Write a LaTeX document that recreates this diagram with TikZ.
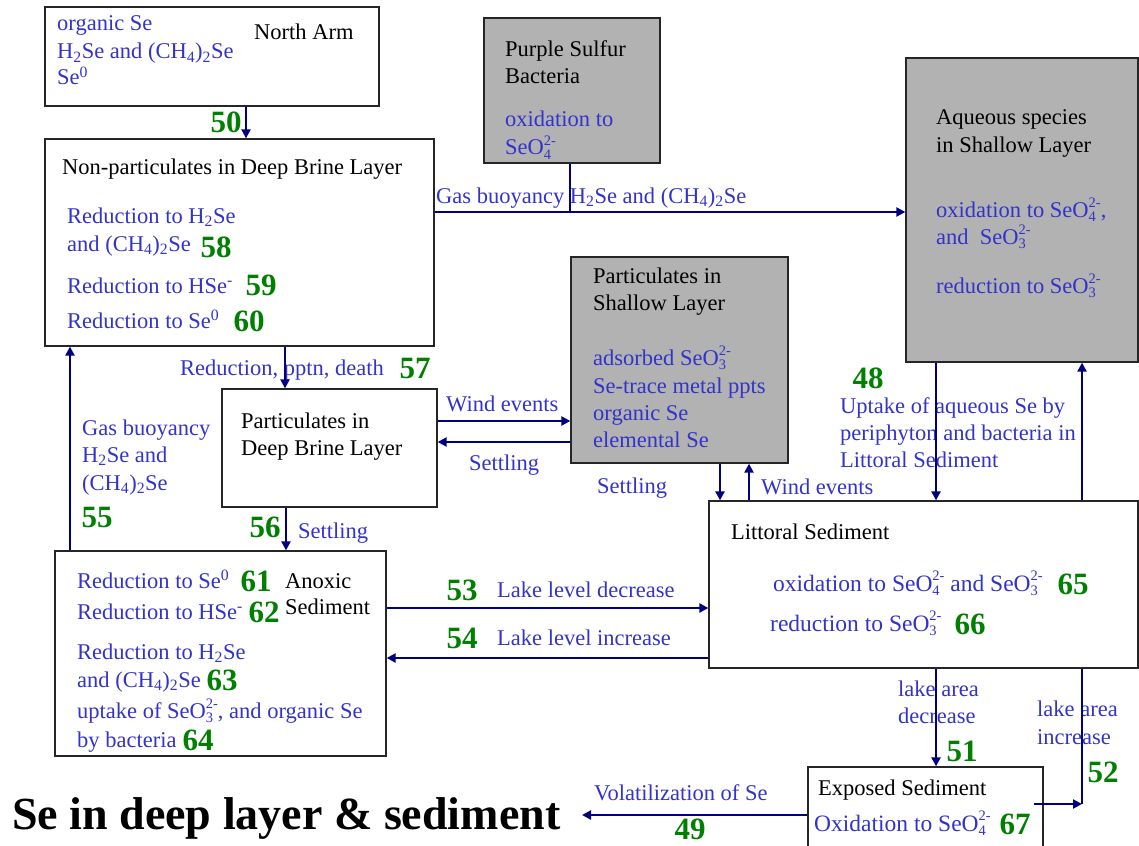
\documentclass[tikz,border=0pt]{standalone}
\usepackage{fontspec}
\setmainfont{Liberation Serif}
\usetikzlibrary{arrows.meta}
\definecolor{tblue}{RGB}{51,51,204}
\definecolor{tgreen}{RGB}{0,128,0}
\definecolor{navyc}{RGB}{0,0,128}
\definecolor{boxgray}{RGB}{178,178,178}
\newcommand\sub[1]{\textsubscript{#1}}
\newcommand\sups[1]{\textsuperscript{#1}}
\newcommand\ion[2]{\rlap{\raisebox{-0.45ex}{\fontsize{14.5}{14.5}\selectfont #1}}\raisebox{0.95ex}{\fontsize{14.5}{14.5}\selectfont #2}}
\tikzset{
 wbox/.style={draw=black!85, line width=1.3pt, fill=white, rectangle, inner sep=0pt},
 gbox/.style={wbox, fill=boxgray},
 txt/.style={anchor=west, inner sep=0pt, text height=16pt, text depth=2pt, font=\fontsize{22.5}{27}\selectfont},
 btxt/.style={txt, text=tblue},
 btxtl/.style={btxt, font=\fontsize{23.5}{27}\selectfont},
 ktxt/.style={txt, text=black},
 gnum/.style={inner sep=0pt, text=tgreen, font=\fontsize{31}{31}\selectfont\bfseries},
 arr/.style={draw=navyc, line width=2.2pt, -{Triangle[length=9pt,width=9pt]}},
 ln/.style={draw=navyc, line width=2.2pt},
}
\begin{document}
\begin{tikzpicture}[x=1pt,y=-1pt]
\useasboundingbox (0,0) rectangle (1139,845);
% boxes
\node[wbox, minimum width=334, minimum height=99] (north) at (212,56.5) {};
\node[wbox, minimum width=389, minimum height=207] (np) at (239.5,242.5) {};
\node[gbox, minimum width=176, minimum height=145] (psb) at (572,90.5) {};
\node[gbox, minimum width=232, minimum height=304] (aq) at (1022,210) {};
\node[gbox, minimum width=217, minimum height=206] (ps) at (679.5,360) {};
\node[wbox, minimum width=215, minimum height=118] (pd) at (329.5,448) {};
\node[wbox, minimum width=331, minimum height=205] (anox) at (220.5,653.5) {};
\node[wbox, minimum width=429, minimum height=167] (lit) at (923.5,584.5) {};
\node[wbox, minimum width=235, minimum height=83] (exp) at (925.5,808.5) {};
% North Arm
\node[btxt] (na1) at (57,24) {organic Se};
\node[btxt] (na2) at (57,52) {H\sub{2}Se and (CH\sub{4})\sub{2}Se};
\node[btxt] (na3) at (57,78) {Se\sups{0}};
\node[ktxt] (na4) at (254,33) {North Arm};
% Non-particulates
\node[ktxt] (np1) at (62,168) {Non-particulates in Deep Brine Layer};
\node[btxt] (np2) at (67,216) {Reduction to H\sub{2}Se};
\node[btxt] (np3) at (67,244) {and (CH\sub{4})\sub{2}Se};
\node[btxt] (np4) at (67,286) {Reduction to HSe\sups{-}};
\node[btxt] (np5) at (67,321) {Reduction to Se\sups{0}};
% Purple sulfur
\node[ktxt] (ps1) at (505,50) {Purple Sulfur};
\node[ktxt] (ps2) at (505,77) {Bacteria};
\node[btxt] (ps3) at (505,120) {oxidation to};
\node[btxt] (ps4) at (505,148) {SeO\ion{4}{2-}};
% Aqueous
\node[ktxt] (aq1) at (936,118) {Aqueous species};
\node[ktxt] (aq2) at (936,146) {in Shallow Layer};
\node[btxt] (aq3) at (936,210) {oxidation to SeO\ion{4}{2-},};
\node[btxt] (aq4) at (936,237) {and\ \ SeO\ion{3}{2-}};
\node[btxt] (aq5) at (936,286) {reduction to SeO\ion{3}{2-}};
% Particulates shallow
\node[ktxt] (sh1) at (593,276) {Particulates in};
\node[ktxt] (sh2) at (593,303) {Shallow Layer};
\node[btxt] (sh3) at (593,358) {adsorbed SeO\ion{3}{2-}};
\node[btxt] (sh4) at (593,386) {Se-trace metal ppts};
\node[btxt] (sh5) at (593,413) {organic Se};
\node[btxt] (sh6) at (593,440) {elemental Se};
% Particulates deep
\node[ktxt] (pd1) at (241,421) {Particulates in};
\node[ktxt] (pd2) at (241,448) {Deep Brine Layer};
% Anoxic
\node[btxt] (an1) at (77,581) {Reduction to Se\sups{0}};
\node[btxt] (an2) at (77,612) {Reduction to HSe\sups{-}};
\node[btxt] (an3) at (77,652) {Reduction to H\sub{2}Se};
\node[btxt] (an4) at (77,680) {and (CH\sub{4})\sub{2}Se};
\node[btxt] (an5) at (77,711) {uptake of SeO\ion{3}{2-}, and organic Se};
\node[btxt] (an6) at (77,740) {by bacteria};
\node[ktxt] (an7) at (285,581) {Anoxic};
\node[ktxt] (an8) at (285,607) {Sediment};
% Littoral
\node[ktxt] (li1) at (731,532) {Littoral Sediment};
\node[btxtl] (li2) at (773,584) {oxidation to SeO\ion{4}{2-} and SeO\ion{3}{2-}};
\node[btxtl] (li3) at (770,624) {reduction to SeO\ion{3}{2-}};
% Exposed
\node[ktxt] (ex1) at (818,788) {Exposed Sediment};
\node[btxtl] (ex2) at (814,824) {Oxidation to SeO\ion{4}{2-}};
% connector labels
\node[btxt] (lgas) at (436,196) {Gas buoyancy H\sub{2}Se and (CH\sub{4})\sub{2}Se};
\node[btxt] (lred) at (180,368) {Reduction, pptn, death};
\node[btxt] (lwind) at (446,404) {Wind events};
\node[btxt] (lset) at (469,463) {Settling};
\node[btxt] (lg1) at (82,428) {Gas buoyancy};
\node[btxt] (lg2) at (82,455) {H\sub{2}Se and};
\node[btxt] (lg3) at (82,483) {(CH\sub{4})\sub{2}Se};
\node[btxt] (lset2) at (298,531) {Settling};
\node[btxt] (lset3) at (597,486) {Settling};
\node[btxt] (lwind2) at (761,487) {Wind events};
\node[btxt] (lup1) at (840,406) {Uptake of aqueous Se by};
\node[btxt] (lup2) at (840,433) {periphyton and bacteria in};
\node[btxt] (lup3) at (840,460) {Littoral Sediment};
\node[btxt] (llld) at (497,590) {Lake level decrease};
\node[btxt] (llli) at (497,638) {Lake level increase};
\node[btxt] (lla1) at (898,689) {lake area};
\node[btxt] (lla2) at (898,716) {decrease};
\node[btxt] (lla3) at (1037,709) {lake area};
\node[btxt] (lla4) at (1037,737) {increase};
\node[btxt] (lvol) at (594,793) {Volatilization of Se};
% numbers
\node[gnum] (n50) at (226,122) {50};
\node[gnum] (n58) at (216,247) {58};
\node[gnum] (n59) at (261,285) {59};
\node[gnum] (n60) at (249,321) {60};
\node[gnum] (n57) at (415,368) {57};
\node[gnum] (n48) at (868,378) {48};
\node[gnum] (n55) at (97,517) {55};
\node[gnum] (n56) at (265,527) {56};
\node[gnum] (n53) at (462,590) {53};
\node[gnum] (n54) at (462,638) {54};
\node[gnum] (n61) at (256,581) {61};
\node[gnum] (n62) at (264,612) {62};
\node[gnum] (n63) at (222,680) {63};
\node[gnum] (n64) at (198,740) {64};
\node[gnum] (n65) at (1073,584) {65};
\node[gnum] (n66) at (970,624) {66};
\node[gnum] (n51) at (962,751) {51};
\node[gnum] (n52) at (1103,772) {52};
\node[gnum] (n67) at (1015,824) {67};
\node[gnum] (n49) at (690,829) {49};
% title
\node[anchor=base west, inner sep=0pt, font=\fontsize{46}{46}\selectfont\bfseries] (title) at (12,829) {Se in deep layer \& sediment};
% helper coordinates
\coordinate (x70) at (70,0);
\coordinate (x246) at (246,0);
\coordinate (x285) at (285,0);
\coordinate (x286) at (286,0);
\coordinate (x720) at (720,0);
\coordinate (x749) at (749,0);
\coordinate (x936) at (936,0);
\coordinate (x1082) at (1082,0);
\coordinate (y212) at (0,212);
\coordinate (y421) at (0,421);
\coordinate (y442) at (0,442);
\coordinate (y608) at (0,608);
\coordinate (y658) at (0,658);
\coordinate (y815) at (0,815);
\coordinate (gasj) at (570,212);
\coordinate (j52) at (1082,804);
\coordinate (vol) at (582,815);
% connectors
\draw[arr] (north.south -| x246) -- (np.north -| x246);
\draw[arr] (np.east |- y212) -- (aq.west |- y212);
\draw[ln] (psb.south -| gasj) -- (gasj);
\draw[arr] (np.south -| x285) -- (pd.north -| x285);
\draw[arr] (pd.east |- y421) -- (ps.west |- y421);
\draw[arr] (ps.west |- y442) -- (pd.east |- y442);
\draw[arr] (pd.south -| x286) -- (anox.north -| x286);
\draw[arr] (anox.north -| x70) -- (np.south -| x70);
\draw[arr] (ps.south -| x720) -- (lit.north -| x720);
\draw[arr] (lit.north -| x749) -- (ps.south -| x749);
\draw[arr] (aq.south -| x936) -- (lit.north -| x936);
\draw[arr] (lit.north -| x1082) -- (aq.south -| x1082);
\draw[arr] (anox.east |- y608) -- (lit.west |- y608);
\draw[arr] (lit.west |- y658) -- (anox.east |- y658);
\draw[arr] (lit.south -| x936) -- (exp.north -| x936);
\draw[ln] (lit.south -| x1082) -- (j52);
\draw[arr] ([xshift=-10pt]exp.east |- j52) -- (j52);
\draw[arr] (exp.west |- y815) -- (vol);
\end{tikzpicture}
\end{document}
